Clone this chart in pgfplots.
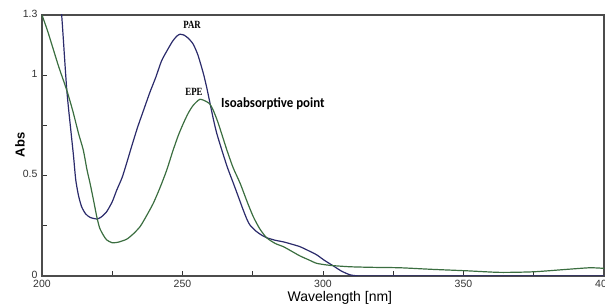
\documentclass[border=0pt]{standalone}
\usepackage{pgfplots}
\pgfplotsset{compat=1.18}
\usepackage{fontspec}
\setmainfont{Liberation Sans}
\newfontfamily\calib{Carlito}
\newfontfamily\serifb{Liberation Serif}
\usetikzlibrary{calc}
\definecolor{parblue}{HTML}{2B2B6B}
\definecolor{epegreen}{HTML}{3B6E40}
\begin{document}
\begin{tikzpicture}
\begin{axis}[name=ax, scale only axis, width=562pt, height=261pt,
  xmin=200, xmax=400, ymin=0, ymax=1.3,
  xtick={200,250,300,350,400}, minor xtick={225,275,325,375},
  ytick={0,0.5,1,1.3}, yticklabels={0,0.5,1,1.3}, minor ytick={0.25,0.75},
  tick align=inside, xtick pos=bottom, ytick pos=left,
  major tick length=5pt, minor tick length=5pt,
  axis line style={color=black!70, line width=1.2pt},
  tick style={black!80, line width=0.8pt},
  ticklabel style={font=\fontsize{10.5}{12}\selectfont, text=black!80},
  xticklabel style={yshift=-0.5pt},
  yticklabel style={xshift=-1pt, yshift=1.5pt},
  /pgf/number format/assume math mode=true,
  xlabel={Wavelength [nm]},
  xlabel style={font=\fontsize{14}{16}\selectfont, at={(axis description cs:0.530,-0.082)}, anchor=center},
  ylabel={Abs},
  ylabel style={font=\bfseries\fontsize{13}{15}\selectfont, at={(axis description cs:-0.039,0.502)}, anchor=center},
]
\addplot[parblue, line width=1.2pt, smooth, tension=0.4] coordinates {
(206.0,1.42) (207.0,1.30) (208.8,0.93) (210.3,0.72) (211.2,0.60) (212.0,0.48)
(213.0,0.40) (214.1,0.345) (215.5,0.31) (217.1,0.292) (219.5,0.284) (221.0,0.293)
(223.0,0.32) (225.0,0.37) (226.6,0.428) (228.5,0.49) (230.1,0.561) (232.0,0.65)
(234.0,0.74) (236.0,0.82) (238.4,0.915) (240.5,0.99) (242.5,1.07) (244.4,1.12)
(246.5,1.17) (248.0,1.195) (249.1,1.204) (250.5,1.200) (252.0,1.185) (253.8,1.155)
(255.5,1.10) (257.4,1.01) (258.6,0.94) (259.8,0.86) (261.0,0.78) (262.2,0.71)
(264.0,0.627) (266.0,0.54) (268.1,0.462) (270.0,0.39) (271.6,0.329) (273.0,0.28)
(274.0,0.254) (276.0,0.225) (278.0,0.205) (279.9,0.191) (283.0,0.178) (285.9,0.170)
(289.0,0.158) (291.8,0.146) (295.0,0.125) (297.8,0.105) (300.5,0.078) (303.7,0.05)
(306.5,0.025) (309.6,0.006) (313.0,0.0) (320,0.0) (400,0.0)
};
\addplot[epegreen, line width=1.2pt, smooth, tension=0.4] coordinates {
(200.0,1.30) (202.0,1.22) (204.0,1.13) (206.0,1.04) (208.8,0.926) (211.0,0.82)
(213.0,0.71) (214.7,0.627) (216.0,0.53) (217.1,0.462) (218.3,0.38) (219.5,0.295)
(220.5,0.24) (221.8,0.204) (223.0,0.18) (224.9,0.166) (227.0,0.168) (230.1,0.183)
(232.5,0.21) (234.9,0.246) (237.0,0.295) (239.6,0.362) (242.0,0.44) (244.4,0.528)
(246.5,0.62) (248.5,0.70) (250.3,0.76) (252.0,0.81) (253.8,0.85) (256.2,0.88)
(258.6,0.868) (259.8,0.855) (260.9,0.827) (262.5,0.77) (263.9,0.71) (265.8,0.627)
(268.0,0.54) (270.5,0.462) (273.0,0.37) (275.2,0.295) (277.5,0.235) (279.9,0.191)
(283.0,0.162) (285.9,0.146) (289.0,0.122) (291.8,0.10) (295.0,0.08) (297.8,0.063)
(302.5,0.053) (309.6,0.046) (318,0.043) (327.4,0.041) (339,0.033) (351,0.026)
(363,0.018) (375,0.021) (386.7,0.033) (395,0.041) (400,0.038)
};
\node[font=\serifb\bfseries\fontsize{11}{12}\selectfont, xscale=0.8] at (axis cs:253.4,1.25) {PAR};
\node[font=\serifb\bfseries\fontsize{11}{12}\selectfont, xscale=0.8] at (axis cs:254.1,0.916) {EPE};
\node[font=\calib\bfseries\fontsize{14}{16}\selectfont, anchor=west, inner sep=0pt, xscale=0.92] at (axis cs:263.7,0.857) {Isoabsorptive point};
\end{axis}
\pgfresetboundingbox
\path[use as bounding box] ($(ax.south west)+(-42pt,-31pt)$) rectangle ($(ax.north east)+(1pt,15pt)$);
\end{tikzpicture}
\end{document}
